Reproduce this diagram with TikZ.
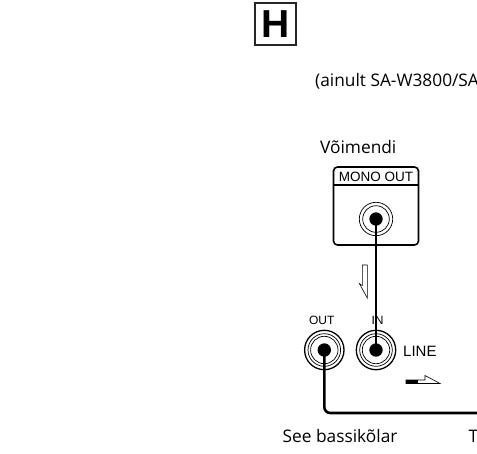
\documentclass[tikz,border=0pt]{standalone}
\usepackage{fontspec}
\setmainfont{Open Sans}
\newfontfamily\panelfont{Liberation Sans}

\begin{document}
\begin{tikzpicture}[x=1pt,y=-1pt]
  \tikzset{
    cable/.style={line width=2.6pt},
    ring/.style={line width=0.7pt},
    caption/.style={font=\fontsize{17.3}{20}\selectfont, anchor=base west, inner sep=0pt},
    panel/.style={font=\panelfont\fontsize{12}{14}\selectfont, anchor=base, inner sep=0pt},
    hollow/.style={line width=0.6pt, fill=white},
  }
  \useasboundingbox (0,0) rectangle (477,453);
  \clip (0,0) rectangle (477,453);

  % figure letter
  \node[draw=black!85, line width=2pt, minimum size=41.5pt, inner sep=0pt,
        font=\panelfont\bfseries\fontsize{39}{39}\selectfont] (fig) at (275.7,24.2) {H};

  % captions
  \node[caption] (note) at (315,86.7) {(ainult SA-W3800/SA};
  \node[caption] (amp) at (320,153.3) {Võimendi};
  \node[caption] (sub) at (282.5,442.7) {See bassikõlar};
  \node[caption] (tv) at (468.5,442.7) {T};

  % amplifier panel
  \begin{scope}
    \draw[line width=1.6pt, rounded corners=4pt] (333.5,167) rectangle (418.5,245);
    \draw[line width=1.3pt] (333.5,185) -- (418.5,185);
    \node[panel, font=\panelfont\fontsize{13.5}{14}\selectfont] (monolbl) at (376,181.5) {MONO OUT};
    \draw[ring] (376,219) circle (16.7);
    \draw[ring] (376,219) circle (13.3);
    \fill (376,219) circle (6.7);
    \coordinate (mono) at (376,219);
  \end{scope}

  % subwoofer jacks
  \begin{scope}[shift={(324.3,350)}]
    \draw[line width=1.3pt] (0,0) circle (19.7);
    \draw[ring] (0,0) circle (16.3);
    \draw[ring] (0,0) circle (13.7);
    \fill (0,0) circle (6.7);
    \coordinate (out) at (0,0);
  \end{scope}
  \begin{scope}[shift={(376,350)}]
    \draw[line width=1.3pt] (0,0) circle (19.7);
    \draw[ring] (0,0) circle (16.3);
    \draw[ring] (0,0) circle (13.7);
    \fill (0,0) circle (6.7);
    \coordinate (in) at (0,0);
  \end{scope}
  \node[panel] (outlbl) at (321.8,324.5) {OUT};
  \node[panel] (inlbl) at (377.5,324.5) {IN};
  \node[panel, font=\panelfont\fontsize{15}{16}\selectfont, anchor=base west] (linelbl) at (403,356) {LINE};

  % cables
  \coordinate (cableend) at (480,413);
  \draw[cable] (mono) -- (in);
  \draw[cable, rounded corners=6pt] (out) |- (cableend);

  % signal arrows
  \draw[hollow] (362.3,265) -- (367.3,265) -- (367.3,298) -- (359.3,283.5) -- (362.3,285.5) -- cycle;
  \draw[hollow] (406,380) -- (425,380) -- (425,375.5) -- (440,383.5) -- (406,383.5) -- cycle;
  \fill (406,380) rectangle (418,383.5);
\end{tikzpicture}
\end{document}
